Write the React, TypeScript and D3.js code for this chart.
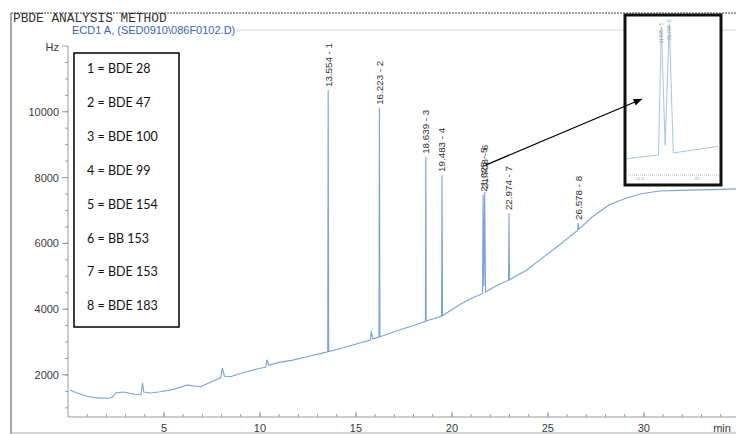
import React from 'react';
import * as d3 from 'd3';

// chromatogram trace: [retention time (min), signal (Hz)]
const trace: [number, number][] = [
  [0.1, 1540], [0.5, 1440], [1.0, 1350], [1.5, 1300], [2.1, 1290], [2.3, 1320],
  [2.5, 1460], [2.9, 1480], [3.4, 1420], [3.8, 1390], [3.88, 1760], [3.95, 1480],
  [4.3, 1450], [4.8, 1490], [5.5, 1560], [6.2, 1690], [6.9, 1640], [7.5, 1800],
  [7.95, 1910], [8.04, 2210], [8.15, 1960], [8.5, 1950], [9.2, 2080], [10.0, 2200],
  [10.3, 2230], [10.36, 2460], [10.45, 2290], [11.0, 2380], [11.7, 2450], [12.5, 2560],
  [13.3, 2670], [13.53, 2700], [13.554, 10660], [13.58, 2710], [14.3, 2820], [15.2, 2970],
  [15.75, 3060], [15.8, 3330], [15.87, 3090], [16.2, 3150], [16.223, 10120], [16.25, 3160],
  [17.3, 3370], [18.0, 3500], [18.62, 3630], [18.639, 8630], [18.66, 3640], [19.46, 3790],
  [19.483, 8080], [19.51, 3800], [20.4, 4130], [21.0, 4320], [21.595, 4470], [21.625, 7480],
  [21.665, 4700], [21.708, 7560], [21.75, 4520], [22.3, 4700], [22.95, 4880], [22.974, 6920],
  [23.0, 4890], [23.9, 5190], [24.7, 5550], [25.6, 5950], [26.3, 6280], [26.55, 6400],
  [26.578, 6620], [26.62, 6430], [27.3, 6800], [28.2, 7170], [29.1, 7380], [29.8, 7500],
  [30.8, 7590], [31.8, 7610], [32.9, 7625], [34.0, 7640], [34.8, 7655],
];

const peakRt = [13.554, 16.223, 18.639, 19.483, 21.625, 21.708, 22.974, 26.578];
const peakNo = [1, 2, 3, 4, 5, 6, 7, 8];

const legendItems = [
  '1 = BDE 28', '2 = BDE 47', '3 = BDE 100', '4 = BDE 99',
  '5 = BDE 154', '6 = BB 153', '7 = BDE 153', '8 = BDE 183',
];

const xMajor = [5, 10, 15, 20, 25, 30];
const yMajor = [2000, 4000, 6000, 8000, 10000];
const insetTicks = [21.4, 22];

const W = 736;
const H = 434;

export default function App() {
  const x = d3.scaleLinear().domain([0, 34.8]).range([68, 736]);
  const y = d3.scaleLinear().domain([720, 12000]).range([417, 46]);
  const line = d3.line<[number, number]>().x(d => x(d[0])).y(d => y(d[1]));

  const xMinor = d3.range(1, 35);
  const yMinor = d3.range(1000, 12000, 500);

  // inset: zoom on peaks 5 & 6
  const ix = d3.scaleLinear().domain([21.4, 22.0]).range([640, 697]);
  const iy = d3.scaleLinear().domain([4000, 7650]).range([175, 20]);
  const insetLine = d3.line<[number, number]>().x(d => ix(d[0])).y(d => iy(d[1]));
  const insetData = trace.filter(d => d[0] >= 21.0 && d[0] <= 22.3);

  const apex = (rt: number) => (trace.find(d => d[0] === rt) as [number, number])[1];

  const arrowStart = [x(21.708) + 1, y(apex(21.708)) - 27];
  const arrowEnd = [642, 99];
  const ang = Math.atan2(arrowEnd[1] - arrowStart[1], arrowEnd[0] - arrowStart[0]);
  const ah = 9;
  const head = [
    arrowEnd,
    [arrowEnd[0] - ah * Math.cos(ang - 0.4), arrowEnd[1] - ah * Math.sin(ang - 0.4)],
    [arrowEnd[0] - ah * Math.cos(ang + 0.4), arrowEnd[1] - ah * Math.sin(ang + 0.4)],
  ];

  const axisCol = '#9a9a9a';
  const textCol = '#3a3a3a';
  const sans = '"Liberation Sans", Arial, sans-serif';

  return (
    <svg width={W} height={H} style={{ position: 'absolute', left: 0, top: 0, background: '#fff' }}>
      <defs>
        <clipPath id="insetClip">
          <rect x={627} y={17} width={93} height={166} />
        </clipPath>
      </defs>

      {/* frame */}
      <line x1={11} x2={W} y1={13} y2={13} stroke="#444" strokeDasharray="2 1" />
      <line x1={11} x2={11} y1={13} y2={H} stroke="#555" />
      <line x1={11} x2={W} y1={433} y2={433} stroke="#aaa" />
      <text x={13} y={22} fontFamily='"Liberation Mono", monospace' fontSize={12.8} fill="#333">
        PBDE ANALYSIS METHOD
      </text>
      <text x={72} y={34} fontFamily={sans} fontSize={11} fill="#3c5fb6">
        {'ECD1 A,  (SED0910\\086F0102.D)'}
      </text>
      <line x1={236} x2={W} y1={30} y2={30} stroke="#d6d6d6" />

      {/* y axis */}
      <line x1={68} x2={68} y1={y(12000)} y2={417} stroke={axisCol} />
      {yMinor.map(v => (
        <line key={v} x1={65} x2={68} y1={y(v)} y2={y(v)} stroke={axisCol} />
      ))}
      {yMajor.map(v => (
        <g key={v}>
          <line x1={62} x2={68} y1={y(v)} y2={y(v)} stroke={axisCol} />
          <text x={59} y={y(v) + 4} textAnchor="end" fontFamily={sans} fontSize={11} fill={textCol}>
            {v}
          </text>
        </g>
      ))}
      <line x1={62} x2={68} y1={y(12000)} y2={y(12000)} stroke={axisCol} />
      <text x={59} y={y(12000) + 5} textAnchor="end" fontFamily={sans} fontSize={11} fill={textCol}>
        Hz
      </text>

      {/* x axis */}
      <line x1={68} x2={W} y1={417} y2={417} stroke={axisCol} />
      {xMinor.map(v => (
        <line key={v} x1={x(v)} x2={x(v)} y1={417} y2={414} stroke={axisCol} />
      ))}
      {xMajor.map(v => (
        <g key={v}>
          <line x1={x(v)} x2={x(v)} y1={417} y2={412} stroke={axisCol} />
          <text x={x(v)} y={432} textAnchor="middle" fontFamily={sans} fontSize={11} fill={textCol}>
            {v}
          </text>
        </g>
      ))}
      <text x={722} y={432} textAnchor="middle" fontFamily={sans} fontSize={11} fill={textCol}>
        min
      </text>

      {/* trace */}
      <path d={line(trace) || ''} fill="none" stroke="#7ba3d6" strokeWidth={1.1} />

      {/* peak labels */}
      {peakRt.map((rt, i) => {
        const px = x(rt);
        const py = y(apex(rt)) - 3;
        return (
          <text
            key={rt}
            transform={`translate(${px + 3.5},${py}) rotate(-90)`}
            fontFamily={sans}
            fontSize={9.8}
            fill="#333"
          >
            {`${rt.toFixed(3)} - ${peakNo[i]}`}
          </text>
        );
      })}

      {/* legend */}
      <rect x={74} y={53} width={105} height={274} fill="#fff" stroke="#000" strokeWidth={1.5} />
      {legendItems.map((t, i) => (
        <text key={t} x={87} y={73 + i * 33.9} fontFamily="Lato, 'Open Sans', sans-serif" fontSize={12.5} fill="#111">
          {t}
        </text>
      ))}

      {/* inset */}
      <rect x={625} y={15} width={96} height={170} fill="#fff" stroke="#111" strokeWidth={3} />
      <g clipPath="url(#insetClip)">
        <path d={insetLine(insetData) || ''} fill="none" stroke="#a8c4e8" strokeWidth={1} />
        <line x1={628} x2={719} y1={175} y2={175} stroke="#bbb" strokeDasharray="1 1" />
        {insetTicks.map(v => (
          <text key={v} x={ix(v)} y={180} textAnchor="middle" fontFamily={sans} fontSize={4} fill="#999">
            {v}
          </text>
        ))}
        {peakRt.filter(rt => rt > 21 && rt < 22).map(rt => (
          <text
            key={rt}
            transform={`translate(${ix(rt) + 1.5},${iy(apex(rt)) + 16}) rotate(-90)`}
            fontFamily={sans}
            fontSize={4.5}
            fill="#999"
          >
            {`${rt.toFixed(3)} - ${peakNo[peakRt.indexOf(rt)]}`}
          </text>
        ))}
      </g>

      {/* arrow */}
      <line x1={arrowStart[0]} y1={arrowStart[1]} x2={arrowEnd[0]} y2={arrowEnd[1]} stroke="#000" strokeWidth={1.3} />
      <polygon points={head.map(p => p.join(',')).join(' ')} fill="#000" />
    </svg>
  );
}
